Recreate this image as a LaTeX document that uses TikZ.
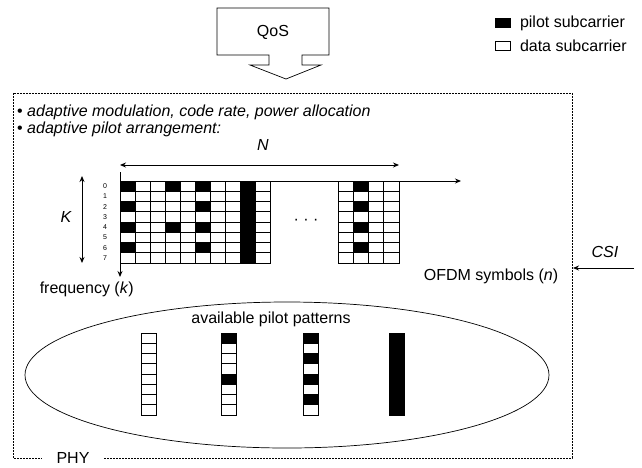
\documentclass[tikz,border=0pt]{standalone}
\usepackage{fontspec}
\setmainfont{Liberation Sans}
\usetikzlibrary{positioning,arrows.meta}

\begin{document}
\begin{tikzpicture}
 [x=1pt,y=-1pt,
  data cell/.style={draw,fill=white,line width=0.9pt},
  pilot cell/.style={draw,fill=black,line width=0.9pt},
  key node/.style={draw,line width=0.6pt,minimum width=15pt,minimum height=9pt,inner sep=0pt},
  normal node/.style={font=\fontsize{16}{18}\selectfont,inner sep=0pt},
  italic node/.style={font=\fontsize{16}{18}\selectfont\itshape,inner sep=0pt},
  index node/.style={font=\fontsize{7}{8}\selectfont,inner sep=0pt},
  phy line/.style={line width=0.9pt,dash pattern=on 2pt off 1pt},
  axis/.style={line width=0.9pt,-{Stealth[length=6pt,width=5pt]}},
  span/.style={line width=0.9pt,{Stealth[length=6pt,width=5pt]}-{Stealth[length=6pt,width=5pt]}}]

 \useasboundingbox (0,0) rectangle (642,467);

 \draw[line width=0.7pt] (217,8) -- (329,8) -- (329,55) -- (302,55) -- (302,65) -- (321,65)
   -- (286,79) -- (250,65) -- (269,65) -- (269,55) -- (217,55) -- cycle;
 \node[normal node] (qos) at (273,32) {QoS};

 \node[key node,fill=black] (pilotkey) at (503,23) {};
 \node[normal node] (pilottxt) [right=9pt of pilotkey] {pilot subcarrier};
 \node[key node,fill=white] (datakey) at (503,46) {};
 \node[normal node] (datatxt) [right=9pt of datakey] {data subcarrier};

 \draw[phy line] (13,93) rectangle (572,458);
 \node[normal node,fill=white,inner xsep=15pt,inner ysep=0.5pt] (phy) at (73,458) {PHY};

 \node[italic node,anchor=west] (mod) at (17,112) {\upshape\textbullet\ \itshape adaptive modulation, code rate, power allocation};
 \node[italic node,anchor=west] (arr) at (17,129) {\upshape\textbullet\ \itshape adaptive pilot arrangement:};

 \foreach \c in {0,...,9}
  \foreach \r in {0,...,7}
   \draw[data cell] (120+\c*15,181+\r*10.25) rectangle ++(15,10.25);
 \foreach \c/\r in {0/0,0/2,0/4,0/6,3/0,3/4,5/0,5/2,5/4,5/6}
  \draw[pilot cell] (120+\c*15,181+\r*10.25) rectangle ++(15,10.25);
 \draw[pilot cell] (240,181) rectangle ++(15,82);

 \foreach \c in {0,...,3}
  \foreach \r in {0,...,7}
   \draw[data cell] (338+\c*15.25,181+\r*10.25) rectangle ++(15.25,10.25);
 \foreach \r in {0,2,4,6}
  \draw[pilot cell] (353.25,181+\r*10.25) rectangle ++(15.25,10.25);

 \foreach \r in {0,...,7}
  \node[index node] (k\r) at (105,186.1+\r*10.25) {\r};

 \node[normal node] (dots) at (306,222) {\textperiodcentered\ \textperiodcentered\ \textperiodcentered};

 \coordinate (vtop) at (120,172);
 \coordinate (vend) at (120,277);
 \coordinate (orig) at (120,181);
 \coordinate (hend) at (461,181);
 \draw[axis] (vtop) -- (vend);
 \draw[axis] (orig) -- (hend);

 \coordinate (nleft) at (120,165);
 \coordinate (nright) at (399,165);
 \draw[span] (nleft) -- (nright);
 \node[italic node] (N) at (263,145) {N};

 \coordinate (ktop) at (82,176);
 \coordinate (kbot) at (82,263);
 \draw[span] (ktop) -- (kbot);
 \node[italic node] (K) at (66,217) {K};

 \node[normal node,anchor=east] (freq) at (134,289) {frequency (\textit{k})};
 \node[normal node] (ofdm) at (491,276) {OFDM symbols (\textit{n})};

 \draw[line width=0.7pt] (287,375) ellipse [x radius=262pt,y radius=73pt];
 \node[normal node] (avail) at (271,319) {available pilot patterns};

 \foreach \x in {141,221,303}
  \foreach \r in {0,...,7}
   \draw[data cell] (\x,333+\r*10.25) rectangle ++(15,10.25);
 \foreach \x/\r in {221/0,221/4,303/0,303/2,303/4,303/6}
  \draw[pilot cell] (\x,333+\r*10.25) rectangle ++(15,10.25);
 \draw[pilot cell] (389,333) rectangle ++(15,82);

 \coordinate (csiin) at (634,268);
 \coordinate (csiout) at (573,268);
 \draw[axis] (csiin) -- (csiout);
 \node[italic node] (csi) at (605,252) {CSI};

\end{tikzpicture}
\end{document}
